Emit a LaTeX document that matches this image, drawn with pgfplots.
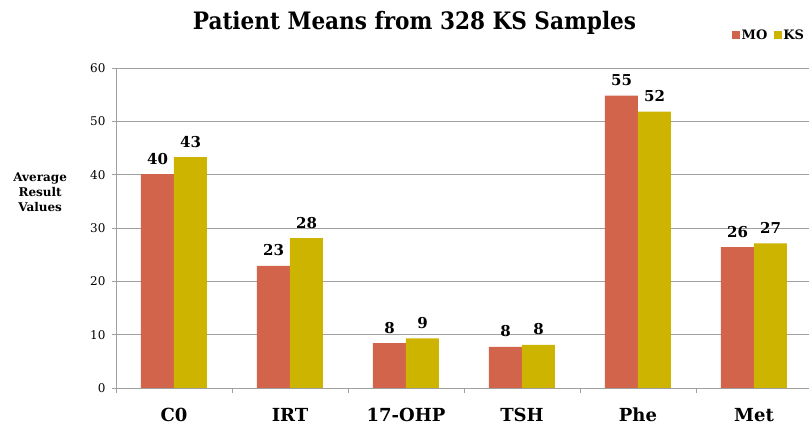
\documentclass[border=0pt]{standalone}
\usepackage{pgfplots}
\pgfplotsset{compat=1.18}
\usepackage{fontspec}
\setmainfont{DejaVu Serif}
\newfontfamily\titlefont{DejaVu Serif Condensed}
\definecolor{moc}{RGB}{209,100,75}
\definecolor{ksc}{RGB}{204,180,0}
\definecolor{gridc}{RGB}{160,160,160}
\begin{document}
\begin{tikzpicture}
\path[use as bounding box] (-116pt,-39pt) rectangle (693pt,388pt);
\begin{axis}[
  at={(0pt,0pt)}, anchor=south west,
  scale only axis, width=696pt, height=320pt,
  xmin=-0.5, xmax=5.5, ymin=0, ymax=60,
  ybar=0pt, bar width=33pt,
  axis x line*=bottom, axis y line*=left,
  axis line style={draw=gridc, line width=0.9pt},
  xtick={0,1,2,3,4,5},
  xticklabels={C0,IRT,17-OHP,TSH,Phe,Met},
  minor xtick={-0.5,0.5,1.5,2.5,3.5,4.5},
  major x tick style={draw=none},
  minor x tick style={draw=gridc, line width=0.8pt},
  minor tick length=5pt,
  ytick={0,10,...,60},
  major y tick style={draw=gridc, line width=0.8pt},
  major tick length=4pt,
  tick align=outside,
  ymajorgrids, major grid style={draw=gridc, line width=0.9pt},
  /pgf/number format/assume math mode=true,
  yticklabel style={font=\fontsize{12}{14}\selectfont, xshift=-3pt},
  xticklabel style={font=\fontsize{18}{20}\selectfont\bfseries, anchor=base, inner sep=0pt, yshift=-30pt},
  ylabel={Average\\Result\\Values},
  ylabel style={rotate=-90, align=center, anchor=center, font=\fontsize{12}{15}\selectfont\bfseries, at={(axis description cs:-0.109,0.6125)}},
  nodes near coords={\pgfmathprintnumber[fixed,precision=0]{\pgfplotspointmeta}},
  every node near coord/.append style={font=\fontsize{15}{17}\selectfont\bfseries, inner sep=0pt, anchor=base, yshift=10pt, text=black},
  clip=false,
  legend columns=2,
  legend style={at={(0.991,1.103)}, anchor=east, draw=none, fill=none, font=\fontsize{13}{15}\selectfont\bfseries, inner sep=0pt, nodes={inner xsep=1.5pt}, /tikz/every even column/.append style={column sep=5pt}},
  legend image code/.code={\fill[#1] (0pt,-3.8pt) rectangle (8pt,3.8pt);},
]
\addplot[fill=moc, draw=none] coordinates {(0,40.1) (1,22.9) (2,8.4) (3,7.7) (4,54.8) (5,26.4)};
\addplot[fill=ksc, draw=none] coordinates {(0,43.3) (1,28.1) (2,9.3) (3,8.1) (4,51.8) (5,27.1)};
\legend{MO,KS}
\end{axis}
\node[anchor=base, font=\titlefont\bfseries\fontsize{24}{27}\selectfont] at (298.5pt,358pt) {Patient Means from 328 KS Samples};
\end{tikzpicture}
\end{document}
